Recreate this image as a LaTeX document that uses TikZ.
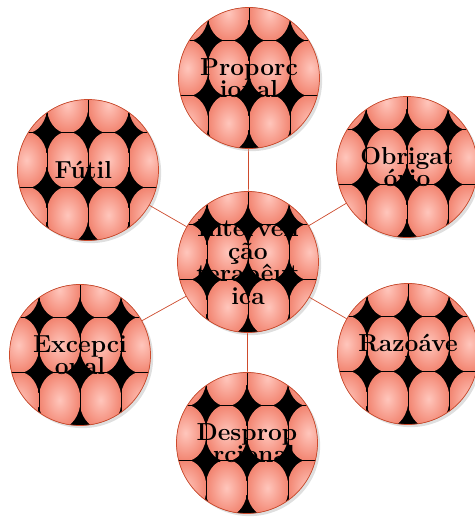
\documentclass[tikz,border=0pt]{standalone}
\definecolor{bubbleedge}{RGB}{205,75,45}
\definecolor{bubblelight}{RGB}{255,198,188}
\definecolor{bubbledark}{RGB}{242,132,112}
\usepackage{tikz}
\usetikzlibrary{positioning,calc,shadows}
\tikzset{
  bubble/.style={circle, draw=bubbleedge, thin, minimum size=2.82cm, inner sep=0pt,
    align=center, font=\fontsize{14}{12.8}\selectfont\bfseries,
    drop shadow={opacity=0.25, shadow xshift=1.5pt, shadow yshift=-1.5pt},
    path picture={
      \fill[black] (path picture bounding box.south west)
        rectangle (path picture bounding box.north east);
      \coordinate (pc) at (path picture bounding box.center);
      \foreach \i in {-2,...,1}
        \foreach \j in {-2,...,2}{
          \begin{scope}
            \clip ([shift={(\i*0.82,\j*1.1-0.35)}]pc) rectangle ++(0.82,1.1);
            \shade[inner color=bubblelight, outer color=bubbledark]
              ([shift={(\i*0.82+0.41,\j*1.1+0.2)}]pc) ellipse (0.42cm and 0.565cm);
          \end{scope}
          \draw[black, line width=0.25pt]
            ([shift={(\i*0.82,\j*1.1-0.35)}]pc) rectangle ++(0.82,1.1);
        }
    }},
  link/.style={draw=bubbleedge, thin}
}
\begin{document}
\begin{tikzpicture}
    \useasboundingbox (0,0) rectangle (9.5,10.38);
    % Centre
    \node[bubble] (core) at (4.96,5.14) {Interven\\ção\\terapêut\\ica};
    % Outer bubbles
    \foreach \x/\y/\nm/\txt in {
      4.98/8.82/prop/{Proporc\\ional},
      8.14/7.04/obrig/{Obrigat\\ório},
      8.16/3.30/razo/{Razoáve\\l},
      4.94/1.52/desp/{Desprop\\orcional},
      1.60/3.28/excep/{Excepci\\onal},
      1.76/6.98/futil/{Fútil}
    }{
      \node[bubble] (\nm) at (\x,\y) {\txt};
      \draw[link] (core) -- (\nm);
    }
  \end{tikzpicture}
\end{document}
